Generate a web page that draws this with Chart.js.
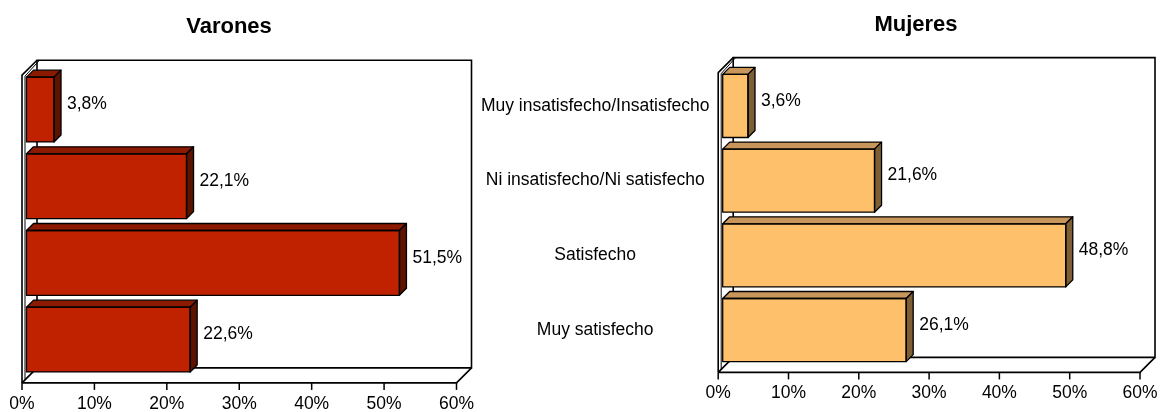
<!DOCTYPE html>
<html>
<head>
<meta charset="utf-8">
<script src="https://cdn.jsdelivr.net/npm/chart.js@4.4.1/dist/chart.umd.min.js"></script>
<style>
html,body{margin:0;padding:0;background:#fff;}
#wrap{position:relative;width:1160px;height:412px;overflow:hidden;}
#wrap canvas{position:absolute;left:0;top:0;}
</style>
</head>
<body>
<div id="wrap">
<canvas id="c1" width="1160" height="412"></canvas>
<canvas id="c2" width="1160" height="412"></canvas>
</div>
<script>
// ---- data ----
const categories = ["Muy insatisfecho/Insatisfecho", "Ni insatisfecho/Ni satisfecho", "Satisfecho", "Muy satisfecho"];
const varonesValues = [3.8, 22.1, 51.5, 22.6];
const mujeresValues = [3.6, 21.6, 48.8, 26.1];
const tickValues = [0, 10, 20, 30, 40, 50, 60];
const tickLabels = ["0%", "10%", "20%", "30%", "40%", "50%", "60%"];
const titleVarones = "Varones";
const titleMujeres = "Mujeres";

const FONT = "'Liberation Sans', Arial, Helvetica, sans-serif";
const DEPTH = 15;      // frame depth
const BDEPTH = 7;      // bar depth
const SHIFT = 4.5;     // bar plane offset from front plane

function fmt(v) { return v.toFixed(1).replace('.', ',') + '%'; }

function makePlugin(opts) {
  return {
    id: 'threeD',
    beforeDatasetsDraw(chart) {
      const ctx = chart.ctx, xs = chart.scales.x, ca = chart.chartArea;
      const l = xs.getPixelForValue(0) - SHIFT, r = xs.getPixelForValue(60) - SHIFT;
      const t = ca.top + 4, b = ca.bottom + 5;
      const D = DEPTH;
      ctx.save();
      ctx.strokeStyle = '#000';
      ctx.lineWidth = 1.6;
      ctx.lineJoin = 'miter';
      // back wall
      ctx.beginPath();
      ctx.moveTo(l + D, b - D);
      ctx.lineTo(l + D, t - D);
      ctx.lineTo(r + D, t - D);
      ctx.lineTo(r + D, b - D);
      ctx.lineTo(l + D, b - D);
      ctx.stroke();
      // floor
      ctx.beginPath();
      ctx.moveTo(l, b);
      ctx.lineTo(r, b);
      ctx.lineTo(r + D, b - D);
      ctx.moveTo(l, b);
      ctx.lineTo(l + D, b - D);
      ctx.stroke();
      // left wall (thin panel)
      ctx.beginPath();
      ctx.moveTo(l, b);
      ctx.lineTo(l, t);
      ctx.lineTo(l + D, t - D);
      ctx.stroke();
      ctx.lineWidth = 1;
      ctx.beginPath();
      ctx.moveTo(l + 3, b - 3);
      ctx.lineTo(l + 3, t + 1);
      ctx.lineTo(l + D + 2, t - D + 0.5);
      ctx.stroke();
      ctx.restore();
    },
    afterDatasetsDraw(chart) {
      const ctx = chart.ctx;
      const meta = chart.getDatasetMeta(0);
      const data = chart.data.datasets[0].data;
      const d = BDEPTH;
      ctx.save();
      ctx.strokeStyle = '#000';
      ctx.lineWidth = 1.3;
      ctx.lineJoin = 'round';
      meta.data.forEach((el, i) => {
        const p = el.getProps(['x', 'y', 'base', 'height'], true);
        const top = p.y - p.height / 2, bot = p.y + p.height / 2;
        const x0 = p.base, x1 = p.x;
        // top face
        ctx.beginPath();
        ctx.moveTo(x0, top);
        ctx.lineTo(x0 + d, top - d);
        ctx.lineTo(x1 + d, top - d);
        ctx.lineTo(x1, top);
        ctx.closePath();
        ctx.fillStyle = opts.topColor;
        ctx.fill();
        ctx.stroke();
        // side face
        ctx.beginPath();
        ctx.moveTo(x1, top);
        ctx.lineTo(x1 + d, top - d);
        ctx.lineTo(x1 + d, bot - d);
        ctx.lineTo(x1, bot);
        ctx.closePath();
        ctx.fillStyle = opts.sideColor;
        ctx.fill();
        ctx.stroke();
        // front outline
        ctx.strokeRect(x0, top, x1 - x0, bot - top);
        // value label
        ctx.fillStyle = '#000';
        ctx.font = '17.5px ' + FONT;
        ctx.textAlign = 'left';
        ctx.textBaseline = 'middle';
        ctx.fillText(fmt(data[i]), x1 + 13, p.y - 5);
      });
      ctx.restore();
    },
    afterDraw(chart) {
      const ctx = chart.ctx, xs = chart.scales.x, ys = chart.scales.y, ca = chart.chartArea;
      const l = xs.getPixelForValue(0) - SHIFT;
      const b = ca.bottom + 5;
      ctx.save();
      ctx.strokeStyle = '#000';
      ctx.lineWidth = 1.5;
      ctx.fillStyle = '#000';
      ctx.font = '17.5px ' + FONT;
      ctx.textAlign = 'center';
      ctx.textBaseline = 'middle';
      tickValues.forEach((v, i) => {
        const px = xs.getPixelForValue(v) - SHIFT;
        ctx.beginPath();
        ctx.moveTo(px, b);
        ctx.lineTo(px, b + 7);
        ctx.stroke();
        ctx.fillText(tickLabels[i], px, b + 21);
      });
      if (opts.showCategories) {
        ctx.font = '17.5px ' + FONT;
        categories.forEach((c, i) => {
          ctx.fillText(c, l - 123, ys.getPixelForValue(i));
        });
      }
      // title
      ctx.font = 'bold 22px ' + FONT;
      ctx.textBaseline = 'alphabetic';
      ctx.fillStyle = '#000';
      ctx.fillText(opts.title, opts.titleX, opts.titleY);
      ctx.restore();
    }
  };
}

function makeChart(id, values, opts) {
  return new Chart(document.getElementById(id), {
    type: 'bar',
    data: {
      labels: categories,
      datasets: [{
        data: values,
        backgroundColor: opts.frontColor,
        borderColor: '#000',
        borderWidth: 0,
        barPercentage: 0.845,
        categoryPercentage: 1.0
      }]
    },
    options: {
      indexAxis: 'y',
      responsive: false,
      animation: false,
      devicePixelRatio: 1,
      layout: { padding: opts.padding },
      scales: {
        x: { type: 'linear', min: 0, max: 60, display: false },
        y: { display: false }
      },
      plugins: { legend: { display: false }, tooltip: { enabled: false }, title: { display: false } }
    },
    plugins: [makePlugin(opts)]
  });
}

makeChart('c1', varonesValues, {
  frontColor: '#C02200',
  topColor: '#8C1A00',
  sideColor: '#5E1200',
  padding: { left: 26.5, right: 699, top: 71.2, bottom: 34.1 },
  showCategories: false,
  title: titleVarones, titleX: 229, titleY: 33
});

makeChart('c2', mujeresValues, {
  frontColor: '#FFC06B',
  topColor: '#C8955A',
  sideColor: '#7D5F33',
  padding: { left: 722.7, right: 15.5, top: 68.6, bottom: 44.6 },
  showCategories: true,
  title: titleMujeres, titleX: 916, titleY: 31
});
</script>
</body>
</html>
